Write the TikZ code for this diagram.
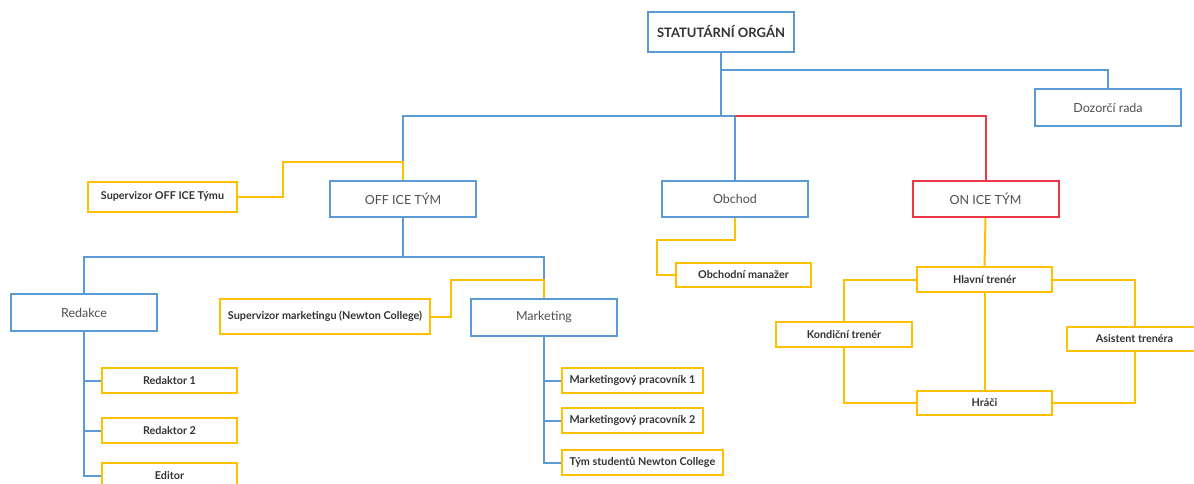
\documentclass[tikz,border=0pt]{standalone}
\usepackage{fontspec}
\setmainfont{Lato}
\usetikzlibrary{backgrounds}
\definecolor{orgblue}{RGB}{91,155,213}
\definecolor{orgyellow}{RGB}{255,192,0}
\definecolor{orgred}{RGB}{236,56,68}
\definecolor{textdark}{RGB}{51,51,51}
\definecolor{textgrey}{RGB}{80,80,80}
\begin{document}
\begin{tikzpicture}[x=1pt,y=-1pt,
  box/.style={draw, line width=2pt, fill=white, inner sep=0pt,
    text=textgrey, font=\fontsize{12.5}{14}\selectfont},
  bluebox/.style={box, draw=orgblue, minimum width=146pt, minimum height=37pt},
  redbox/.style={box, draw=orgred, minimum width=146pt, minimum height=36pt},
  yellowbox/.style={box, draw=orgyellow, minimum width=135pt, minimum height=25pt,
    text=textdark, font=\bfseries\fontsize{10.8}{12}\selectfont},
  blueline/.style={draw=orgblue, line width=2pt},
  yellowline/.style={draw=orgyellow, line width=2pt},
  redline/.style={draw=orgred, line width=2pt}
]
\useasboundingbox (0,0) rectangle (1194,484);
\clip (0,0) rectangle (1194,484);

% --- boxes ---
\node[bluebox, minimum height=40pt, text=textdark,
      font=\bfseries\fontsize{13}{15}\selectfont] (top) at (721,32) {STATUTÁRNÍ ORGÁN};
\node[bluebox] (dozor) at (1108,107.5) {Dozorčí rada};

\node[yellowbox, minimum width=149pt, minimum height=30pt] (supoff) at (162.5,196.5) {Supervizor OFF ICE Týmu};
\node[bluebox, minimum height=36pt] (office) at (403,199) {OFF ICE TÝM};
\node[bluebox, minimum height=36pt] (obchod) at (735,199) {Obchod};
\node[redbox] (onice) at (985.5,199) {ON ICE TÝM};

\node[bluebox] (redakce) at (84,312.5) {Redakce};
\node[yellowbox, minimum width=210pt, minimum height=35pt] (supmkt) at (325,316.5) {Supervizor marketingu (Newton College)};
\node[bluebox] (marketing) at (544,317.5) {Marketing};

\node[yellowbox] (red1) at (169.5,380.5) {Redaktor 1};
\node[yellowbox] (red2) at (169.5,430.5) {Redaktor 2};
\node[yellowbox] (editor) at (169.5,475.5) {Editor};

\node[yellowbox, minimum width=141pt] (mp1) at (632.5,380.5) {Marketingový pracovník 1};
\node[yellowbox, minimum width=141pt] (mp2) at (632.5,420.5) {Marketingový pracovník 2};
\node[yellowbox, minimum width=161pt] (tym) at (642.5,462.5) {Tým studentů Newton College};

\node[yellowbox, minimum height=24pt] (obman) at (743.5,275) {Obchodní manažer};

\node[yellowbox] (hlavni) at (984.5,279.5) {Hlavní trenér};
\node[yellowbox, minimum width=136pt] (kond) at (844,334.5) {Kondiční trenér};
\node[yellowbox, minimum height=24pt] (asist) at (1134.5,339) {Asistent trenéra};
\node[yellowbox, minimum height=24pt] (hraci) at (984.5,403) {Hráči};

% --- connectors ---
\begin{scope}[on background layer]
\fill[white] (0,0) rectangle (1194,484);

% board level
\coordinate (jdoz) at (top.south |- 0,70);
\coordinate (jmain) at (top.south |- 0,116);
\draw[blueline] (top.south) -- (jmain);
\draw[blueline] (jdoz) -| (dozor.north);
\draw[blueline] (office.north) |- (obchod.north |- jmain) -- (obchod.north);
\draw[redline] (obchod.north |- jmain) -| (onice.north);

% supervisor of the off-ice team
\coordinate (soff1) at (283,196.5);
\coordinate (soff2) at (283,162);
\draw[yellowline] (supoff.east) -- (soff1) -- (soff2) -- (office.north |- soff2) -- (office.north);

% off-ice team split
\coordinate (joff) at (office.south |- 0,257);
\draw[blueline] (office.south) -- (joff);
\draw[blueline] (redakce.north) |- (marketing.north |- joff) -- (marketing.north |- 0,280);

% supervisor of marketing
\coordinate (smk1) at (451,316.5);
\coordinate (smk2) at (451,280);
\draw[yellowline] (supmkt.east) -- (smk1) -- (smk2) -- (marketing.north |- smk2) -- (marketing.north);

% editorial staff
\draw[blueline] (redakce.south) |- (editor.west);
\draw[blueline] (redakce.south |- red1.west) -- (red1.west);
\draw[blueline] (redakce.south |- red2.west) -- (red2.west);

% marketing staff
\draw[blueline] (marketing.south) |- (tym.west);
\draw[blueline] (marketing.south |- mp1.west) -- (mp1.west);
\draw[blueline] (marketing.south |- mp2.west) -- (mp2.west);

% sales
\coordinate (ob1) at (obchod.south |- 0,240);
\coordinate (ob2) at (657,240);
\draw[yellowline] (obchod.south) -- (ob1) -- (ob2) |- (obman.west);

% on-ice team
\draw[yellowline] (onice.south) -- (hlavni.north);
\draw[yellowline] (hlavni.west) -| (kond.north);
\draw[yellowline] (kond.south) |- (hraci.west);
\draw[yellowline] (hlavni.east) -| (asist.north);
\draw[yellowline] (asist.south) |- (hraci.east);
\draw[yellowline] (hlavni.south) -- (hraci.north);
\end{scope}
\end{tikzpicture}
\end{document}
